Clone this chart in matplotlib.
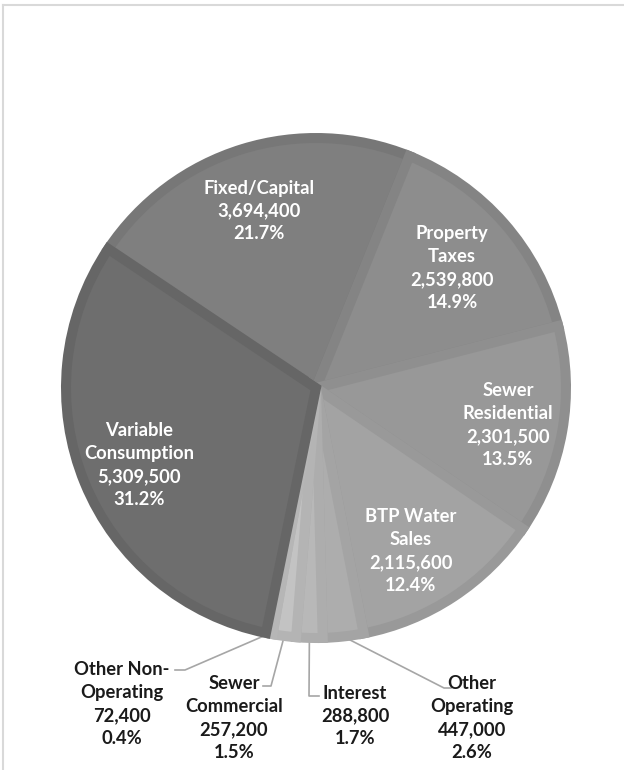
import numpy as np
import matplotlib
matplotlib.use("Agg")
import matplotlib.pyplot as plt
from matplotlib.lines import Line2D

# Revenue breakdown, listed clockwise from the Fixed/Capital slice
names = ["Fixed/Capital", "Property\nTaxes", "Sewer\nResidential", "BTP Water\nSales",
         "Other\nOperating", "Interest", "Sewer\nCommercial", "Other Non-\nOperating",
         "Variable\nConsumption"]
values = np.array([3694400, 2539800, 2301500, 2115600, 447000, 288800, 257200, 72400, 5309500])

fills = ["#7f7f7f", "#8d8d8d", "#989898", "#a3a3a3", "#adadad", "#b8b8b8",
         "#c3c3c3", "#c6c6c6", "#6e6e6e"]
edges = ["#777777", "#848484", "#8f8f8f", "#999999", "#a4a4a4", "#adadad",
         "#b4b4b4", "#b6b6b6", "#666666"]

# label centres in pixels (x, y from top)
W, H = 624, 770
CX, CY, R = 316, 388, 250
label_px = [(259, 211), (452, 268), (508, 425), (411, 551),
            (472, 718), (355, 716), (234, 718), (122, 704), (139, 465)]
# leader line: elbow point and hook end (pixels)
leaders = {4: ((444, 688), (451, 688)),
           5: ((309, 696), (319, 696)),
           6: ((271, 686), (263, 686)),
           7: ((185, 670), (175, 670))}


def to_data(p):
    return (p[0] - CX) / R, (CY - p[1]) / R


fig = plt.figure(figsize=(W / 100, H / 100), dpi=100)
fig.patch.set_facecolor("white")
ax = fig.add_axes([(CX - R) / W, (H - CY - R) / H, 2 * R / W, 2 * R / H])

wedges, _ = ax.pie(values, colors=fills, startangle=146.2, counterclock=False,
                   radius=1, wedgeprops=dict(linewidth=0))
ax.set_xlim(-1, 1)
ax.set_ylim(-1, 1)
ax.set_aspect("equal")
ax.axis("off")

# inset border on each slice: stroke clipped to the slice itself
for w, ec in zip(wedges, edges):
    w.set_edgecolor(ec)
    w.set_linewidth(7.2)
    w.set_clip_path(w)

total = values.sum()
for i, (w, name, v) in enumerate(zip(wedges, names, values)):
    txt = f"{name}\n{v:,}\n{v / total * 100:.1f}%"
    x, y = to_data(label_px[i])
    inside = i not in leaders
    ax.text(x, y, txt, ha="center", va="center", fontsize=13.2, fontweight="bold",
            family="Lato", linespacing=1.42,
            color="white" if inside else "#1a1a1a", clip_on=False)
    if not inside:
        mid = np.deg2rad((w.theta1 + w.theta2) / 2)
        start = (np.cos(mid), np.sin(mid))
        elbow = to_data(leaders[i][0])
        hook = to_data(leaders[i][1])
        ax.plot([start[0], elbow[0], hook[0]], [start[1], elbow[1], hook[1]],
                color="#a6a6a6", lw=1.2, clip_on=False, zorder=0.5)

# chart area frame (top and left edges visible)
fig.add_artist(Line2D([2.5 / W, 1.0], [1 - 4.5 / H, 1 - 4.5 / H],
                      transform=fig.transFigure, color="#d9d9d9", lw=1.5))
fig.add_artist(Line2D([2.5 / W, 2.5 / W], [0, 1 - 4.5 / H],
                      transform=fig.transFigure, color="#d9d9d9", lw=1.5))

fig.savefig("out.png", dpi=100)
